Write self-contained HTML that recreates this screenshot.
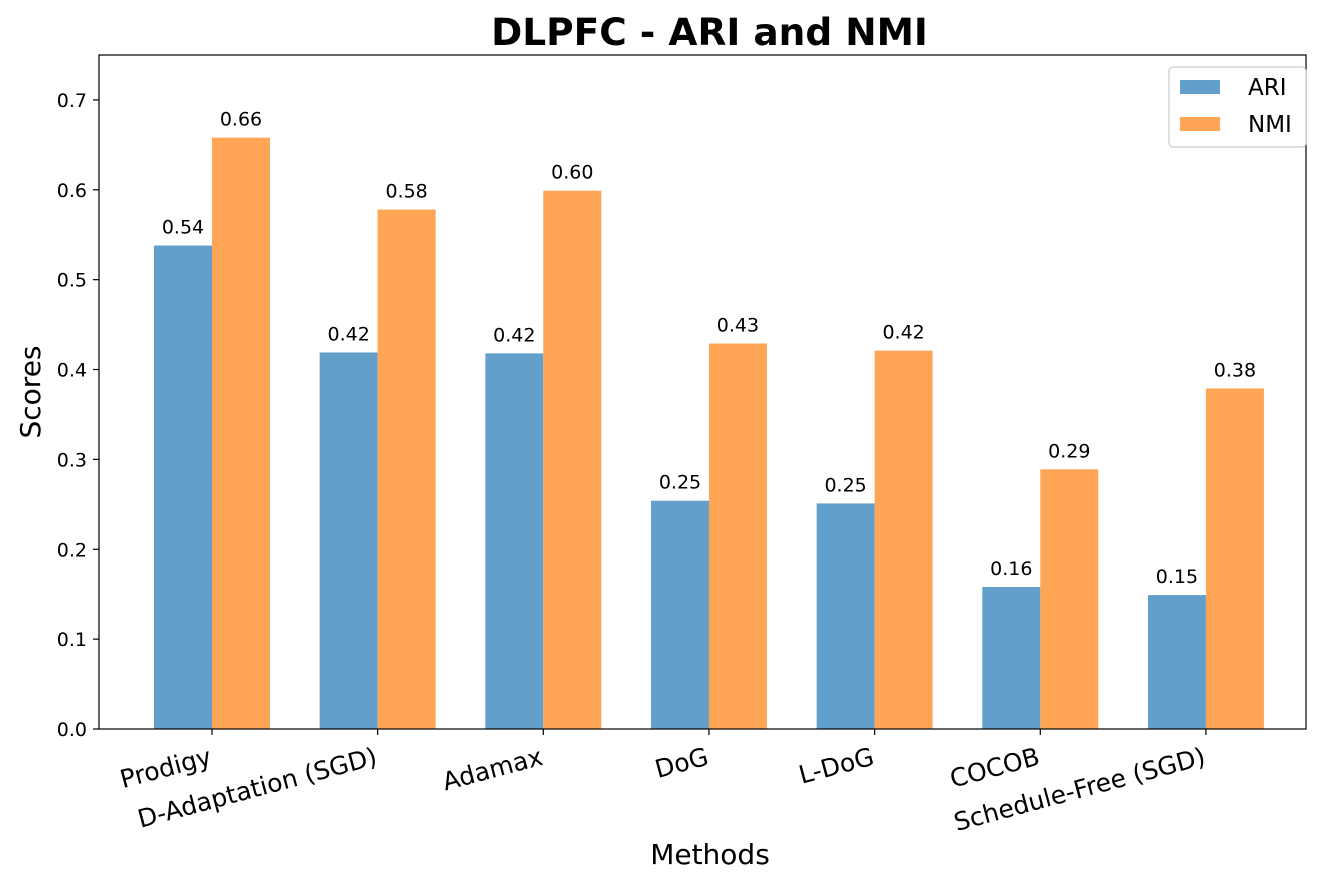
<!DOCTYPE html>
<html><head><meta charset="utf-8"><style>
body{margin:0;background:#fff;}
svg{display:block;font-family:"DejaVu Sans","Liberation Sans",sans-serif;}
</style></head><body>
<svg id="chart" width="1334" height="885"></svg>
<script>
const categories=["Prodigy","D-Adaptation (SGD)","Adamax","DoG","L-DoG","COCOB","Schedule-Free (SGD)"];
const ariValues=[0.538,0.419,0.418,0.254,0.251,0.158,0.149];
const nmiValues=[0.658,0.578,0.599,0.429,0.421,0.289,0.379];
const yTicks=[0.0,0.1,0.2,0.3,0.4,0.5,0.6,0.7];

const NS="http://www.w3.org/2000/svg";
const svg=document.getElementById('chart');
const L=99,R=1306,B=729,T=55;
const xmin=-0.682,xmax=6.604,ymax=0.75,bw=0.35;
const xs=v=>L+(v-xmin)/(xmax-xmin)*(R-L);
const ys=v=>B-v/ymax*(B-T);
function mk(tag,attrs,text){const e=document.createElementNS(NS,tag);for(const k in attrs)e.setAttribute(k,attrs[k]);if(text!==undefined)e.textContent=text;svg.appendChild(e);return e;}

categories.forEach((c,i)=>{
  [[ariValues,-bw/2,'#629fca','ari'],[nmiValues,bw/2,'#ffa556','nmi']].forEach(([arr,off,col,nm])=>{
    const v=arr[i];const x0=xs(i+off-bw/2),x1=xs(i+off+bw/2);
    const r=mk('rect',{x:x0,y:ys(v),width:x1-x0,height:B-ys(v),fill:col});
    
    
    const t=mk('text',{x:(x0+x1)/2,y:ys(v)-12,'text-anchor':'middle','font-size':'19'},v.toFixed(2));
    
    
  });
  const tx=xs(i);
  const tk=mk('line',{x1:tx,x2:tx,y1:B,y2:B+6,stroke:'#000','stroke-width':1.2});
  
  
  const lx=tx-4,ly=B+17;
  const lb=mk('text',{x:lx,y:ly,'text-anchor':'end','font-size':'25',transform:`rotate(-15 ${lx} ${ly})`,dy:'0.75em'},c);
  
  
});
yTicks.forEach(v=>{
  const y=ys(v);
  const tk=mk('line',{x1:L-6,x2:L,y1:y,y2:y,stroke:'#000','stroke-width':1.2});
  
  
  const lb=mk('text',{x:L-12,y:y+7,'text-anchor':'end','font-size':'19'},v.toFixed(1));
  
  
});
const fr=mk('rect',{x:L,y:T,width:R-L,height:B-T,fill:'none',stroke:'#000','stroke-width':1.2});


const ti=mk('text',{x:709.5,y:45,'text-anchor':'middle','font-size':'37.5','font-weight':'bold'},'DLPFC - ARI and NMI');


const xt=mk('text',{x:710,y:864,'text-anchor':'middle','font-size':'28'},'Methods');


const yt=mk('text',{x:40,y:(T+B)/2,'text-anchor':'middle','font-size':'28',transform:`rotate(-90 40 ${(T+B)/2})`},'Scores');


const lg=mk('rect',{x:1169,y:67,width:137,height:80,rx:4,fill:'#fff',stroke:'#ccc','stroke-width':1.2});


[['ARI','#629fca',80],['NMI','#ffa556',117]].forEach(([n,c,y])=>{
  const s=mk('rect',{x:1180,y:y,width:40,height:14,fill:c});
  
  
  const t=mk('text',{x:1248,y:y+15,'font-size':'23'},n);
  
  
});
</script>
</body></html>
